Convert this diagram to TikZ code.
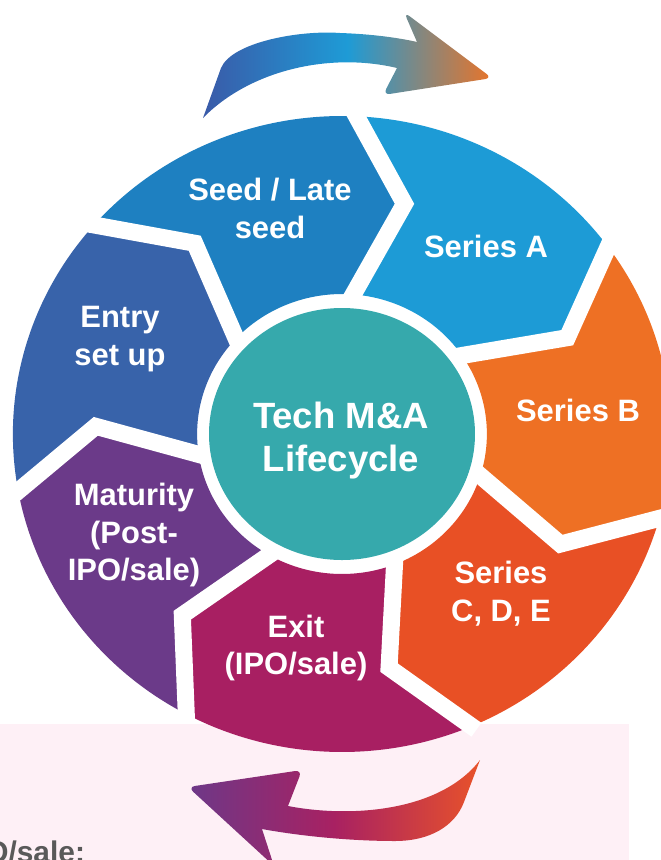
\documentclass[tikz,border=0pt]{standalone}
\usepackage{fontspec}
\setmainfont{Liberation Sans}

\definecolor{seedcol}{HTML}{1E80C1}
\definecolor{seriesacol}{HTML}{1D9BD6}
\definecolor{seriesbcol}{HTML}{EE7024}
\definecolor{seriesccol}{HTML}{E85025}
\definecolor{exitcol}{HTML}{A81F62}
\definecolor{maturitycol}{HTML}{6B3A89}
\definecolor{entrycol}{HTML}{3863AA}
\definecolor{hubcol}{HTML}{36A9AC}
\definecolor{pinkband}{HTML}{FEF0F6}
\definecolor{notegray}{HTML}{595959}
\definecolor{arrowblue}{HTML}{3A5AA8}
\definecolor{arrowcyan}{HTML}{1E9BD6}
\definecolor{arrowamber}{HTML}{E8742A}
\definecolor{arrowplum}{HTML}{6D3888}
\definecolor{arrowberry}{HTML}{A82162}
\definecolor{arrowflame}{HTML}{E8522A}

\tikzset{
  stagelabel/.style={text=white, align=center, inner sep=0pt,
    font=\fontsize{17.6}{21.6}\selectfont\bfseries},
  stagegap/.style={white, line width=0.34cm}
}

\begin{document}
\begin{tikzpicture}[x=0.02cm, y=-0.02cm]
    \useasboundingbox (0,0) rectangle (661,860);

    % pink band at the bottom
    \fill[pinkband] (0,724) rectangle (629,860);
    \node[anchor=base west, inner sep=0pt, text=notegray,
      font=\fontsize{17}{20}\selectfont\bfseries] (note) at (-15,862) {O/sale:};

    % the two round arrows
    \shade[left color=arrowblue, right color=arrowamber, middle color=arrowcyan]
      (203,118) -- (221,68) .. controls (232,42) and (300,30) .. (340,33)
      .. controls (372,34) and (400,38) .. (417,42)
      [rounded corners=0.14cm] -- (404,12) -- (492,78) -- (383,95) [sharp corners] -- (397,68)
      .. controls (330,52) and (250,70) .. (203,118) -- cycle;
    \shade[left color=arrowplum, right color=arrowflame, middle color=arrowberry]
      (480,760) -- (464,802) .. controls (455,826) and (430,841) .. (395,841)
      .. controls (350,841) and (300,836) .. (262,829)
      [rounded corners=0.14cm] -- (274,866) -- (188,787) -- (302,770) [sharp corners] -- (288,806)
      .. controls (350,818) and (440,812) .. (480,760) -- cycle;

    % wheel
    \begin{scope}[shift={(342,434)}, yscale=-1, xscale=1.035]
      \foreach \i/\col in {0/seriesacol, 1/seriesbcol, 2/seriesccol, 3/exitcol,
                           4/maturitycol, 5/entrycol, 6/seedcol}{
        \pgfmathsetmacro{\a}{88-51.43*\i}
        \pgfmathsetmacro{\b}{88-51.43*(\i+1)}
        \fill[\col] (\a:318) arc[start angle=\a, end angle=\b, radius=318]
          -- (\b-12.7:238) -- (\b-1.5:140)
          arc[start angle=\b-1.5, end angle=\a-1.5, radius=140]
          -- (\a-12.7:238) -- cycle;
      }
      \foreach \i in {0,...,6}{
        \pgfmathsetmacro{\a}{88-51.43*\i}
        \draw[stagegap] (\a:323) -- (\a-12.7:238) -- (\a-1.5:135);
      }
      \fill[hubcol] (0,0) ellipse[x radius=128.5, y radius=126];
    \end{scope}

    % labels
    \node[stagelabel] (seed) at (270,208) {Seed / Late\\seed};
    \node[stagelabel] (seriesa) at (486,246) {Series A};
    \node[stagelabel] (seriesb) at (578,410) {Series B};
    \node[stagelabel] (seriesc) at (501,594) {Series\\C, D, E};
    \node[stagelabel] (exit) at (296,648) {Exit\\(IPO/sale)};
    \node[stagelabel] (maturity) at (134,535) {Maturity\\(Post-\\IPO/sale)};
    \node[stagelabel] (entry) at (120,339) {Entry\\set up};
    \node[stagelabel, font=\fontsize{20.8}{24.5}\selectfont\bfseries] (hub) at (341,441)
      {Tech M\&A\\Lifecycle};
\end{tikzpicture}
\end{document}
